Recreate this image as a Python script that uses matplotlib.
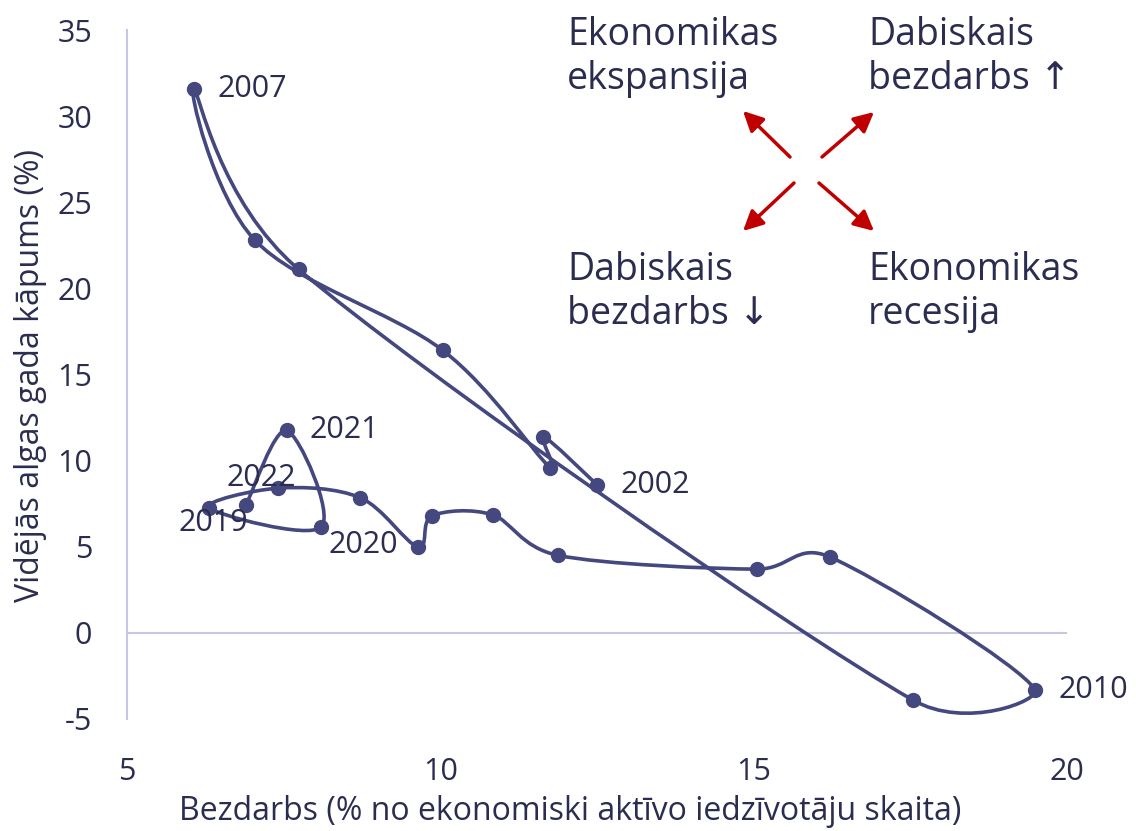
import numpy as np
import matplotlib
matplotlib.use("Agg")
import matplotlib.pyplot as plt
from matplotlib.path import Path
from matplotlib.patches import PathPatch

plt.rcParams['font.family'] = ['Open Sans', 'DejaVu Sans']

# data: unemployment (% of active population) and average wage growth (%), 2002-2022
years = list(range(2002, 2023))
unemployment = [12.50, 11.64, 11.75, 10.04, 7.04, 6.07, 7.74, 17.54, 19.49, 16.22, 15.05,
                11.88, 10.84, 9.87, 9.64, 8.72, 7.41, 6.31, 8.10, 7.55, 6.90]
wage_growth = [8.6, 11.4, 9.6, 16.4, 22.8, 31.6, 21.1, -3.9, -3.3, 4.4, 3.7,
               4.5, 6.85, 6.8, 5.0, 7.85, 8.4, 7.25, 6.15, 11.75, 7.45]
labelled = {2002: 'right', 2007: 'right', 2010: 'right', 2019: 'below',
            2020: 'belowright', 2021: 'right', 2022: 'above'}

line_col = '#45487F'
text_col = '#2B2D50'
axis_col = '#C6C7E4'
red = '#C00000'

fig = plt.figure(figsize=(11.36, 8.31), dpi=100)
ax = fig.add_axes([127 / 1136, 112 / 831, 940 / 1136, 689 / 831])
ax.set_xlim(5, 20)
ax.set_ylim(-5, 35)
ax.set_xticks([5, 10, 15, 20])
ax.set_yticks(range(-5, 40, 5))
ax.set_yticklabels([str(v) for v in range(-5, 40, 5)])
ax.tick_params(length=0, labelsize=22, labelcolor=text_col)
ax.tick_params(axis='y', pad=25)
ax.tick_params(axis='x', pad=27)
for s in ['top', 'right', 'bottom']:
    ax.spines[s].set_visible(False)
ax.spines['left'].set_color(axis_col)
ax.spines['left'].set_linewidth(1.5)
ax.axhline(0, color=axis_col, lw=1.5, zorder=1)


# smoothed line like Excel: bezier handles at 1/6 of neighbour span,
# shortened when that would exceed half of the segment length
def smooth_path(ax, xs, ys):
    pts = ax.transData.transform(np.column_stack([xs, ys]))
    n = len(pts)
    verts = [pts[0]]
    codes = [Path.MOVETO]
    for i in range(n - 1):
        p0 = pts[max(i - 1, 0)]
        p1 = pts[i]
        p2 = pts[i + 1]
        p3 = pts[min(i + 2, n - 1)]
        d12 = np.hypot(*(p2 - p1))
        d02 = np.hypot(*(p2 - p0))
        d13 = np.hypot(*(p3 - p1))
        f0 = min(1 / 6.0, d12 / d02 / 2) if d02 > 0 else 1 / 6.0
        f1 = min(1 / 6.0, d12 / d13 / 2) if d13 > 0 else 1 / 6.0
        if f0 < 1 / 6.0 or f1 < 1 / 6.0:
            f0 = f1 = min(f0, f1)
        c1 = p1 + f0 * (p2 - p0)
        c2 = p2 - f1 * (p3 - p1)
        verts += [c1, c2, p2]
        codes += [Path.CURVE4] * 3
    verts = ax.transData.inverted().transform(np.array(verts))
    return Path(verts, codes)


ax.add_patch(PathPatch(smooth_path(ax, unemployment, wage_growth), fc='none',
                       ec=line_col, lw=2.6, zorder=3, capstyle='round', joinstyle='round'))
ax.plot(unemployment, wage_growth, 'o', color=line_col, ms=10, zorder=4)

offsets = {'right': ((23, 0), 'left', 'center'),
           'above': ((15, 27), 'center', 'center'),
           'below': ((4, -15), 'center', 'center'),
           'belowright': ((7, -18), 'left', 'center')}
for yr, pos in labelled.items():
    i = years.index(yr)
    off, ha, va = offsets[pos]
    ax.annotate(str(yr), (unemployment[i], wage_growth[i]), xytext=off,
                textcoords='offset pixels', ha=ha, va=va, fontsize=22,
                color=text_col, zorder=5)

# quadrant notes
notes = [(567, 'Ekonomikas\nekspansija', 16), (868, 'Dabiskais\nbezdarbs ↑', 16),
         (567, 'Dabiskais\nbezdarbs ↓', 251), (868, 'Ekonomikas\nrecesija', 251)]
for px, txt, py in notes:
    fig.text(px / 1136, 1 - py / 831, txt, ha='left', va='top', fontsize=27,
             color=text_col, linespacing=1.2)

arrows = [((790, 157), (743, 111)), ((822, 157), (874, 112)),
          ((794, 183), (743, 231)), ((819, 183), (874, 231))]
for (tx, ty), (hx, hy) in arrows:
    ax.annotate('', xy=(hx / 1136, 1 - hy / 831), xytext=(tx / 1136, 1 - ty / 831),
                xycoords='figure fraction', textcoords='figure fraction',
                arrowprops=dict(arrowstyle='-|>', color=red, lw=2.5,
                                mutation_scale=30, shrinkA=0, shrinkB=0))

fig.text(570 / 1136, 1 - 812 / 831, 'Bezdarbs (% no ekonomiski aktīvo iedzīvotāju skaita)',
         ha='center', va='center', fontsize=23, color=text_col)
fig.text(31 / 1136, 1 - 375 / 831, 'Vidējās algas gada kāpums (%)', rotation=90,
         ha='center', va='center', fontsize=23, color=text_col)

fig.savefig('out.png', dpi=100)
